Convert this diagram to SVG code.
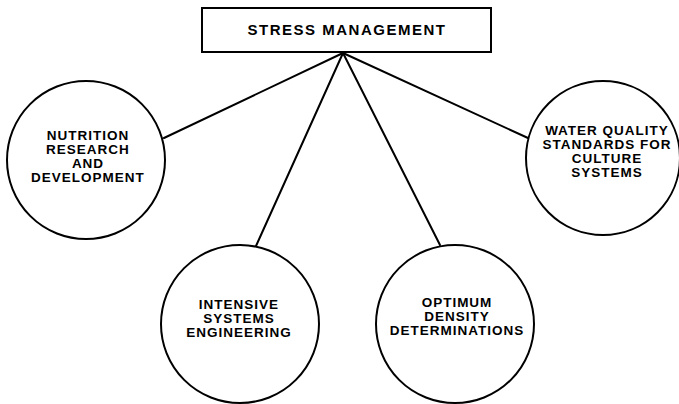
<svg xmlns="http://www.w3.org/2000/svg" width="679" height="404" viewBox="0 0 679 404">
<style>
.bg{fill:#fff}
.shape{fill:#fff;stroke:#000;stroke-width:2}
.conn line{stroke:#000;stroke-width:2;stroke-linecap:round}
text{font-family:"Liberation Sans",Arial,Helvetica,sans-serif;font-weight:bold;font-size:13.5px;letter-spacing:1px;fill:#000;text-anchor:middle}
.title{font-size:15px;letter-spacing:1.5px}
</style>
<rect class="bg" x="0" y="0" width="679" height="404"/>
<g id="connectors" class="conn">
<line x1="343" y1="53" x2="164" y2="138"/>
<line x1="343" y1="53" x2="256" y2="246"/>
<line x1="343" y1="53" x2="440" y2="245"/>
<line x1="343" y1="53" x2="528" y2="138"/>
</g>
<g id="stress-management">
<rect class="shape" x="202" y="8" width="289" height="44"/>
<text class="title" x="347" y="35">STRESS MANAGEMENT</text>
</g>
<g id="nutrition">
<circle class="shape" cx="86" cy="160" r="79"/>
<text x="88" y="140">NUTRITION</text>
<text x="88" y="154">RESEARCH</text>
<text x="88" y="168">AND</text>
<text x="88" y="182">DEVELOPMENT</text>
</g>
<g id="intensive">
<circle class="shape" cx="240" cy="324" r="79"/>
<text x="239" y="309">INTENSIVE</text>
<text x="239" y="323">SYSTEMS</text>
<text x="239" y="337">ENGINEERING</text>
</g>
<g id="optimum">
<circle class="shape" cx="455" cy="324" r="79"/>
<text x="457" y="307">OPTIMUM</text>
<text x="457" y="321">DENSITY</text>
<text x="457" y="335">DETERMINATIONS</text>
</g>
<g id="water-quality">
<circle class="shape" cx="603" cy="158" r="77"/>
<text x="607" y="135">WATER QUALITY</text>
<text x="607" y="149">STANDARDS FOR</text>
<text x="607" y="163">CULTURE</text>
<text x="607" y="177">SYSTEMS</text>
</g>
</svg>
